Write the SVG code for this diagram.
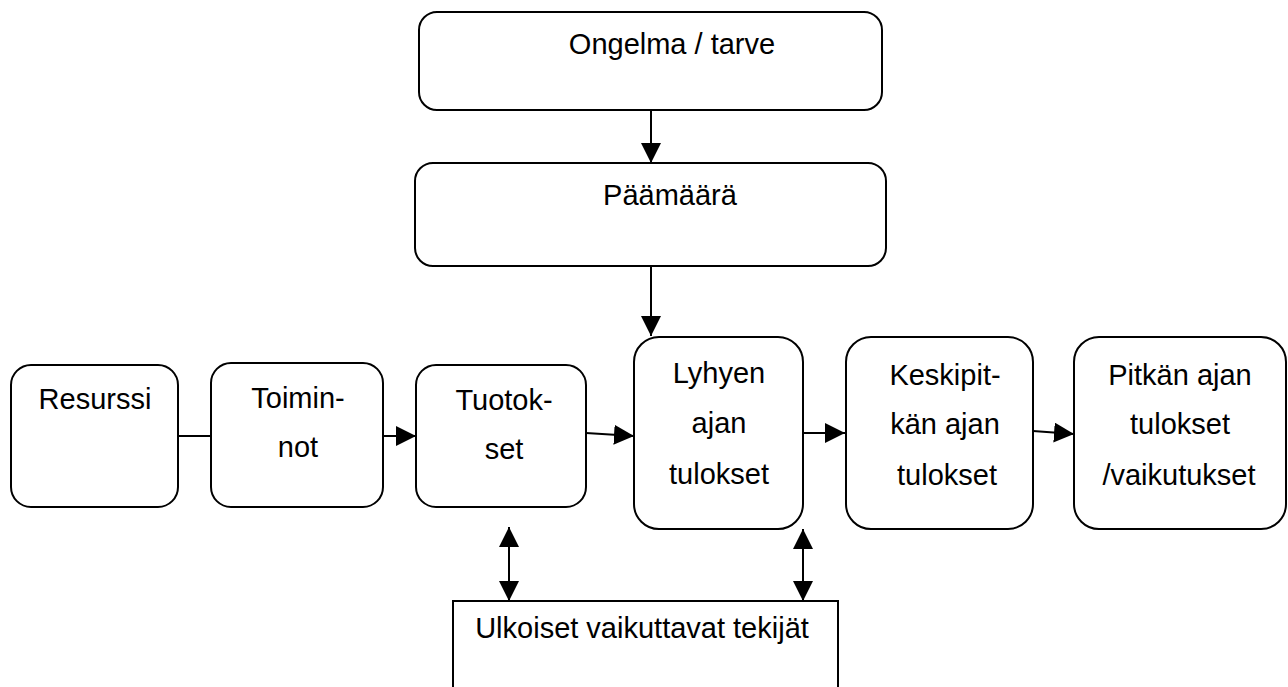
<svg xmlns="http://www.w3.org/2000/svg" width="1288" height="687" viewBox="0 0 1288 687">
<style>
.box{fill:#fff;stroke:#000;stroke-width:2}
.t{font-family:"Liberation Sans",Arial,sans-serif;font-size:29px;fill:#000;text-anchor:middle}
.c{stroke:#000;stroke-width:2;fill:none}
</style>
<defs>
<marker id="ah" viewBox="0 0 20 20" refX="20" refY="10" markerWidth="20" markerHeight="20" markerUnits="userSpaceOnUse" orient="auto-start-reverse">
<path d="M0,0 L20,10 L0,20 z" fill="#000"/>
</marker>
</defs>
<g id="connectors">
<line class="c" x1="651" y1="110" x2="651" y2="163" marker-end="url(#ah)"/>
<line class="c" x1="651" y1="266" x2="651" y2="336" marker-end="url(#ah)"/>
<line class="c" x1="178" y1="436" x2="211" y2="436"/>
<line class="c" x1="383" y1="436" x2="416" y2="436" marker-end="url(#ah)"/>
<line class="c" x1="586" y1="433" x2="634" y2="436" marker-end="url(#ah)"/>
<line class="c" x1="803" y1="433" x2="845" y2="433" marker-end="url(#ah)"/>
<line class="c" x1="1033" y1="431" x2="1074" y2="434" marker-end="url(#ah)"/>
<line class="c" x1="509" y1="527" x2="509" y2="601" marker-start="url(#ah)" marker-end="url(#ah)"/>
<line class="c" x1="803" y1="529" x2="803" y2="601" marker-start="url(#ah)" marker-end="url(#ah)"/>
</g>
<g id="ongelma">
<rect class="box" x="419" y="12" width="463" height="98" rx="18"/>
<text class="t" x="672" y="54">Ongelma / tarve</text>
</g>
<g id="paamaara">
<rect class="box" x="415" y="163" width="471" height="103" rx="18"/>
<text class="t" x="670" y="205">Päämäärä</text>
</g>
<g id="resurssi">
<rect class="box" x="11" y="365" width="167" height="142" rx="20"/>
<text class="t" x="95" y="409">Resurssi</text>
</g>
<g id="toiminnot">
<rect class="box" x="211" y="363" width="172" height="144" rx="20"/>
<text class="t" x="298" y="408">Toimin-</text>
<text class="t" x="298" y="457">not</text>
</g>
<g id="tuotokset">
<rect class="box" x="416" y="365" width="170" height="142" rx="20"/>
<text class="t" x="504" y="410">Tuotok-</text>
<text class="t" x="504" y="459">set</text>
</g>
<g id="lyhyen">
<rect class="box" x="634" y="337" width="169" height="192" rx="25"/>
<text class="t" x="719" y="383">Lyhyen</text>
<text class="t" x="719" y="433">ajan</text>
<text class="t" x="719" y="484">tulokset</text>
</g>
<g id="keskipitkan">
<rect class="box" x="846" y="337" width="187" height="192" rx="25"/>
<text class="t" x="945" y="385">Keskipit-</text>
<text class="t" x="945" y="434">kän ajan</text>
<text class="t" x="947" y="485">tulokset</text>
</g>
<g id="pitkan">
<rect class="box" x="1074" y="337" width="212" height="192" rx="25"/>
<text class="t" x="1180" y="385">Pitkän ajan</text>
<text class="t" x="1180" y="434">tulokset</text>
<text class="t" x="1179" y="485">/vaikutukset</text>
</g>
<g id="ulkoiset">
<rect class="box" x="453" y="601" width="385" height="130"/>
<text class="t" x="642" y="638">Ulkoiset vaikuttavat tekijät</text>
</g>
</svg>
